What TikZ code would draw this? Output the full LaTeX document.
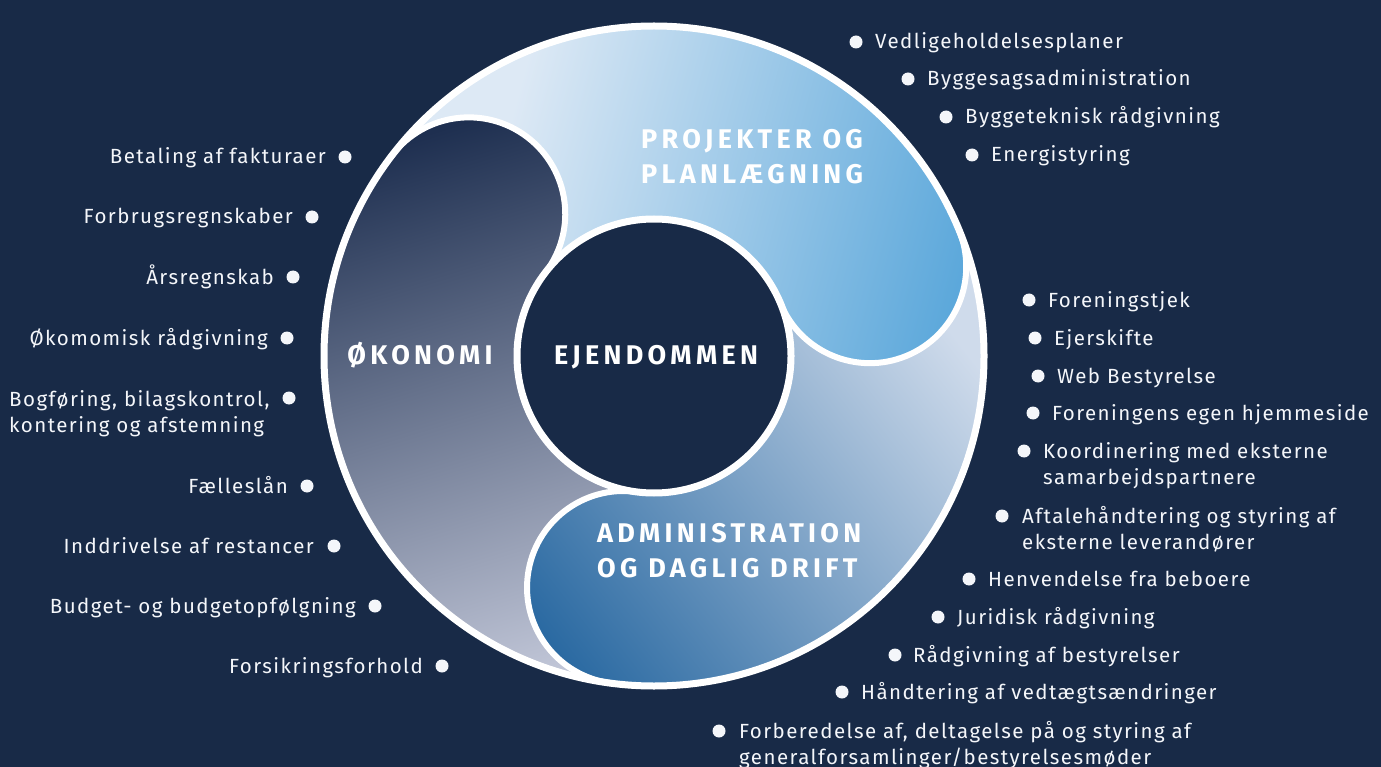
\documentclass[tikz,border=0pt]{standalone}
\usepackage{fontspec}
\usetikzlibrary{calc}
\setmainfont{Fira Sans}
\newfontfamily\hfont{Fira Sans}[LetterSpace=16]
\newfontfamily\lfont{Fira Sans}[LetterSpace=7]
\definecolor{bg}{HTML}{182A47}
\definecolor{pl}{HTML}{DDE9F5}
\definecolor{pb}{HTML}{58A6DA}
\definecolor{al}{HTML}{CFDBEB}
\definecolor{ab}{HTML}{2B6AA2}
\definecolor{ot}{HTML}{1E2F50}
\definecolor{ob}{HTML}{C5CADB}
\definecolor{tx}{HTML}{F4F6FA}
\begin{document}
\begin{tikzpicture}[x=1pt,y=1pt,
  hdr/.style={text=white,font=\hfont\bfseries\fontsize{27}{35}\selectfont,inner sep=0pt,align=left},
  itm/.style={text=tx,font=\lfont\fontsize{20.5}{26}\selectfont,inner sep=0pt},
  bul/.style={circle,fill=tx,minimum size=13pt,inner sep=0pt},
  ring/.style={draw=white,line width=7pt}]
\fill[bg] (0,0) rectangle (1381,-767);
\useasboundingbox (0,0) rectangle (1381,-767);
\coordinate (C) at (654,-356);
\def\ri{137}\def\ro{330}\def\rc{233.5}\def\rh{96.5}
% shadings (gradient band plus solid end colours, rotated round the ring centre)
\def\pshade{\begin{scope}[transform canvas={rotate around={-15:(654,-356)}}]
  \fill[pl] (200,-800) rectangle (455,90); \fill[pb] (943,-800) rectangle (1110,90);
  \shade[left color=pl,right color=pb] (454,-800) rectangle (944,90);\end{scope}}
\def\ashade{\begin{scope}[transform canvas={rotate around={38:(654,-356)}}]
  \fill[ab] (200,-800) rectangle (398,90); \fill[al] (902,-800) rectangle (1110,90);
  \shade[left color=ab,right color=al] (397,-800) rectangle (903,90);\end{scope}}
\def\oshade{\begin{scope}[transform canvas={rotate around={17:(654,-356)}}]
  \fill[ot] (200,-78) rectangle (1110,90); \fill[ob] (200,-800) rectangle (1110,-643);
  \shade[top color=ot,bottom color=ob] (200,-644) rectangle (1110,-77);\end{scope}}
% sectors
\begin{scope}
 \clip ($(C)+(142.5:\ro)$) arc[start angle=142.5,end angle=22.5,radius=\ro] -- ($(C)+(22.5:\ri)$) arc[start angle=22.5,end angle=142.5,radius=\ri] -- cycle;
 \pshade
\end{scope}
\begin{scope}
 \clip ($(C)+(22.5:\ro)$) arc[start angle=22.5,end angle=-97.5,radius=\ro] -- ($(C)+(-97.5:\ri)$) arc[start angle=-97.5,end angle=22.5,radius=\ri] -- cycle;
 \ashade
\end{scope}
\begin{scope}
 \clip ($(C)+(-97.5:\ro)$) arc[start angle=-97.5,end angle=-217.5,radius=\ro] -- ($(C)+(-217.5:\ri)$) arc[start angle=-217.5,end angle=-97.5,radius=\ri] -- cycle;
 \oshade
\end{scope}
% heads
\coordinate (hp) at ($(C)+(22.5:\rc)$);
\coordinate (ha) at ($(C)+(-97.5:\rc)$);
\coordinate (ho) at ($(C)+(142.5:\rc)$);
\begin{scope}\clip (hp) circle[radius=\rh]; \pshade\end{scope}
\begin{scope}\clip (ha) circle[radius=\rh]; \ashade\end{scope}
\begin{scope}\clip (ho) circle[radius=\rh]; \oshade\end{scope}
% white outlines
\draw[white,line width=6pt] ($(hp)+(22.5:\rh)$) arc[start angle=22.5,end angle=-157.5,radius=\rh];
\draw[white,line width=6pt] ($(ha)+(-97.5:\rh)$) arc[start angle=-97.5,end angle=-277.5,radius=\rh];
\draw[white,line width=6pt] ($(ho)+(142.5:\rh)$) arc[start angle=142.5,end angle=-37.5,radius=\rh];
\draw[ring] (C) circle[radius=\ri];
\draw[ring] (C) circle[radius=\ro];
% headings (base = last line)
\node[hdr,anchor=base west] (hproj) at (641,-184) {PROJEKTER OG\\PLANLÆGNING};
\node[hdr,anchor=base west] (hadm) at (597,-577) {ADMINISTRATION\\OG DAGLIG DRIFT};
\node[hdr,anchor=base] (hoko) at (420,-364) {ØKONOMI};
\node[hdr,anchor=base] (heje) at (656,-364) {EJENDOMMEN};
% right list
\node[bul] (rb1) at (856,-42) {};  \node[itm,anchor=base west] (rt1) at (875,-49) {Vedligeholdelsesplaner};
\node[bul] (rb2) at (908,-79) {};  \node[itm,anchor=base west] (rt2) at (927,-86) {Byggesagsadministration};
\node[bul] (rb3) at (946,-117) {}; \node[itm,anchor=base west] (rt3) at (965,-124) {Byggeteknisk rådgivning};
\node[bul] (rb4) at (972,-155) {}; \node[itm,anchor=base west] (rt4) at (991,-162) {Energistyring};
\node[bul] (rb5) at (1029,-300) {}; \node[itm,anchor=base west] (rt5) at (1048,-307) {Foreningstjek};
\node[bul] (rb6) at (1035,-338) {}; \node[itm,anchor=base west] (rt6) at (1054,-345) {Ejerskifte};
\node[bul] (rb7) at (1038,-376) {}; \node[itm,anchor=base west] (rt7) at (1057,-383) {Web Bestyrelse};
\node[bul] (rb8) at (1033,-413) {}; \node[itm,anchor=base west] (rt8) at (1052,-420) {Foreningens egen hjemmeside};
\node[bul] (rb9) at (1024,-451) {}; \node[itm,anchor=base west,align=left] (rt9) at (1043,-484) {Koordinering med eksterne\\samarbejdspartnere};
\node[bul] (rb10) at (1002,-516) {}; \node[itm,anchor=base west,align=left] (rt10) at (1022,-549) {Aftalehåndtering og styring af\\eksterne leverandører};
\node[bul] (rb11) at (969,-579) {}; \node[itm,anchor=base west] (rt11) at (988,-586) {Henvendelse fra beboere};
\node[bul] (rb12) at (938,-617) {}; \node[itm,anchor=base west] (rt12) at (957,-624) {Juridisk rådgivning};
\node[bul] (rb13) at (895,-655) {}; \node[itm,anchor=base west] (rt13) at (913,-662) {Rådgivning af bestyrelser};
\node[bul] (rb14) at (842,-692) {}; \node[itm,anchor=base west] (rt14) at (861,-699) {Håndtering af vedtægtsændringer};
\node[bul] (rb15) at (719,-731) {}; \node[itm,anchor=base west,align=left] (rt15) at (739,-764) {Forberedelse af, deltagelse på og styring af\\generalforsamlinger/bestyrelsesmøder};
% left list
\node[bul] (lb1) at (345,-157) {}; \node[itm,anchor=base east] (lt1) at (326,-164) {Betaling af fakturaer};
\node[bul] (lb2) at (312,-217) {}; \node[itm,anchor=base east] (lt2) at (293,-224) {Forbrugsregnskaber};
\node[bul] (lb3) at (293,-277) {}; \node[itm,anchor=base east] (lt3) at (274,-284) {Årsregnskab};
\node[bul] (lb4) at (287,-338) {}; \node[itm,anchor=base east] (lt4) at (268,-345) {Økomomisk rådgivning};
\node[bul] (lb5) at (289,-398) {}; \node[itm,anchor=base west,align=left] (lt5) at (9,-432) {Bogføring, bilagskontrol,\\ kontering og afstemning};
\node[bul] (lb6) at (307,-486) {}; \node[itm,anchor=base east] (lt6) at (288,-493) {Fælleslån};
\node[bul] (lb7) at (334,-546) {}; \node[itm,anchor=base east] (lt7) at (314,-553) {Inddrivelse af restancer};
\node[bul] (lb8) at (375,-606) {}; \node[itm,anchor=base east] (lt8) at (356,-613) {Budget- og budgetopfølgning};
\node[bul] (lb9) at (442,-666) {}; \node[itm,anchor=base east] (lt9) at (423,-673) {Forsikringsforhold};
\end{tikzpicture}
\end{document}
